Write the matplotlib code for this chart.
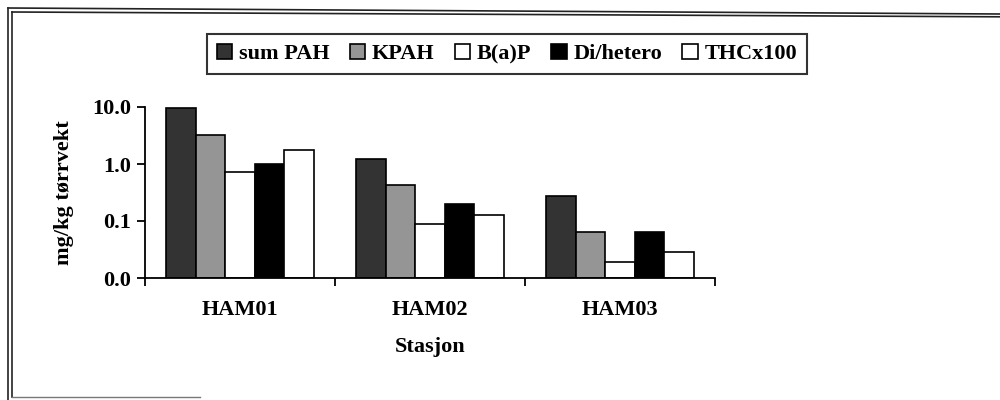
import numpy as np
import matplotlib
matplotlib.use('Agg')
import matplotlib.pyplot as plt
from matplotlib.lines import Line2D
from matplotlib.ticker import FixedLocator, NullLocator

plt.rcParams['font.family'] = ['Liberation Serif', 'DejaVu Serif']
plt.rcParams['font.weight'] = 'bold'

stations = ['HAM01', 'HAM02', 'HAM03']
series = ['sum PAH', 'KPAH', 'B(a)P', 'Di/hetero', 'THCx100']
sum_pah = [9.8, 1.24, 0.28]
kpah = [3.2, 0.42, 0.064]
bap = [0.72, 0.087, 0.019]
di_hetero = [1.0, 0.195, 0.064]
thc_x100 = [1.76, 0.129, 0.029]
yticks = [0.01, 0.1, 1.0, 10.0]
yticklabels = ['0.0', '0.1', '1.0', '10.0']

colors = ['#333333', '#959595', 'white', 'black', 'white']
values = [sum_pah, kpah, bap, di_hetero, thc_x100]

fig = plt.figure(figsize=(10, 4), dpi=100)
ax = fig.add_axes([0.145, 0.305, 0.57, 0.4275])

base = 0.01
width = 0.155
centers = np.arange(len(stations)) + 0.5
for i, (name, vals, c) in enumerate(zip(series, values, colors)):
    offs = (i - 2) * width
    ax.bar(centers + offs, np.array(vals) - base, width=width, bottom=base,
           color=c, edgecolor='black', linewidth=1.2, label=name)

ax.set_yscale('log')
ax.set_ylim(0.01, 10)
ax.set_xlim(0, 3)
ax.yaxis.set_major_locator(FixedLocator(yticks))
ax.yaxis.set_minor_locator(NullLocator())
ax.set_yticklabels(yticklabels)
ax.set_xticks([0, 1, 2, 3])
ax.set_xticklabels([])
ax.set_xticks(centers, minor=True)
ax.set_xticklabels(stations, minor=True)
ax.tick_params(axis='x', which='minor', length=0, pad=16, labelsize=16)
ax.tick_params(axis='x', which='major', length=6, width=1.3, direction='out')
ax.tick_params(axis='y', length=6, width=1.3, direction='out', pad=4,
               labelsize=16)
for s in ['top', 'right']:
    ax.spines[s].set_visible(False)
for s in ['left', 'bottom']:
    ax.spines[s].set_linewidth(1.3)

ax.set_xlabel('Stasjon', fontsize=16, fontweight='bold', labelpad=12)
ax.set_ylabel('mg/kg tørrvekt', fontsize=16, fontweight='bold', labelpad=13)

leg = fig.legend(loc='center', bbox_to_anchor=(0.507, 0.865), ncol=5,
                 fontsize=16, frameon=True, fancybox=False,
                 handlelength=0.7, handleheight=0.7, handletextpad=0.3,
                 columnspacing=0.9, borderpad=0.45, borderaxespad=0)
leg.get_frame().set_edgecolor('black')
leg.get_frame().set_linewidth(1.5)

# scanned page frame
fig.add_artist(Line2D([0.008, 1.0], [0.98, 0.965], color='#222', lw=1.2))
fig.add_artist(Line2D([0.012, 1.0], [0.97, 0.958], color='#222', lw=1.2))
fig.add_artist(Line2D([0.008, 0.008], [0.98, 0.0], color='#222', lw=1.2))
fig.add_artist(Line2D([0.012, 0.012], [0.97, 0.007], color='#222', lw=1.2))
fig.add_artist(Line2D([0.012, 0.2], [0.007, 0.007], color='#777', lw=1.0))

fig.savefig('out.png', dpi=100)
